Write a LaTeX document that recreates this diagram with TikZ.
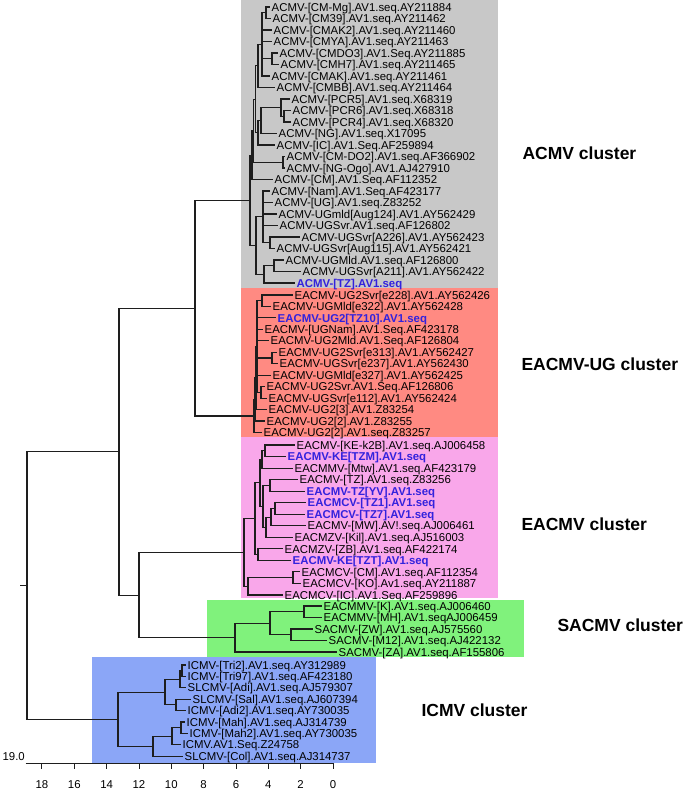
\documentclass[tikz,border=0pt]{standalone}
\usepackage{fontspec}
\setmainfont{Liberation Sans}
\usepackage{xcolor}
\usepackage{tikz}
\definecolor{acmvgray}{HTML}{C8C8C8}
\definecolor{ugred}{HTML}{FF8A82}
\definecolor{eapink}{HTML}{F9A7EA}
\definecolor{sagreen}{HTML}{80F27C}
\definecolor{icblue}{HTML}{8BA6F7}
\definecolor{isoblue}{HTML}{3322DD}
\definecolor{branchgray}{HTML}{1E1E1E}

\begin{document}
\begin{tikzpicture}[x=1pt, y=-1pt,
    leaf/.style={anchor=west, inner xsep=1.5pt, inner ysep=0pt, text height=8.2pt,
                 text depth=0pt, font=\fontsize{11.4}{12}\selectfont},
    ourleaf/.style={leaf, text=isoblue, font=\fontsize{11.4}{12}\selectfont\bfseries},
    cluster/.style={anchor=west, font=\fontsize{17.5}{20}\selectfont\bfseries},
    ticklabel/.style={inner sep=0pt, font=\fontsize{11.4}{12}\selectfont},
    branch/.style={draw=branchgray, line width=1.1pt}]
  \useasboundingbox (0,0) rectangle (685,795);

  % cluster backgrounds
  \fill[acmvgray] (241,0) rectangle (498,288);
  \fill[ugred] (241,288) rectangle (498,437);
  \fill[eapink] (241,437) rectangle (498,598);
  \fill[sagreen] (207,600) rectangle (524,657);
  \fill[icblue] (92,657) rectangle (376,763);

  % ACMV leaves
  \node[leaf] (a1) at (270,7) {ACMV-[CM-Mg].AV1.seq.AY211884};
  \node[leaf] (a2) at (271,18.5) {ACMV-[CM39].AV1.seq.AY211462};
  \node[leaf] (a3) at (272,30) {ACMV-[CMAK2].AV1.seq.AY211460};
  \node[leaf] (a4) at (272,41.5) {ACMV-[CMYA].AV1.seq.AY211463};
  \node[leaf] (a5) at (278,53) {ACMV-[CMDO3].AV1.Seq.AY211885};
  \node[leaf] (a6) at (279,64.5) {ACMV-[CMH7].AV1.seq.AY211465};
  \node[leaf] (a7) at (270,76) {ACMV-[CMAK].AV1.seq.AY211461};
  \node[leaf] (a8) at (275,87.5) {ACMV-[CMBB].AV1.seq.AY211464};
  \node[leaf] (a9) at (290,99) {ACMV-[PCR5].AV1.seq.X68319};
  \node[leaf] (a10) at (291,110.5) {ACMV-[PCR6].AV1.seq.X68318};
  \node[leaf] (a11) at (291,122) {ACMV-[PCR4].AV1.seq.X68320};
  \node[leaf] (a12) at (277,133.5) {ACMV-[NG].AV1.seq.X17095};
  \node[leaf] (a13) at (275,145) {ACMV-[IC].AV1.Seq.AF259894};
  \node[leaf] (a14) at (285,156.5) {ACMV-[CM-DO2].AV1.seq.AF366902};
  \node[leaf] (a15) at (285,168) {ACMV-[NG-Ogo].AV1.AJ427910};
  \node[leaf] (a16) at (273,179.5) {ACMV-[CM].AV1.Seq.AF112352};
  \node[leaf] (a17) at (270,191) {ACMV-[Nam].AV1.Seq.AF423177};
  \node[leaf] (a18) at (273,202.5) {ACMV-[UG].AV1.seq.Z83252};
  \node[leaf] (a19) at (277,214) {ACMV-UGmld[Aug124].AV1.AY562429};
  \node[leaf] (a20) at (278,225.5) {ACMV-UGSvr.AV1.seq.AF126802};
  \node[leaf] (a21) at (300,237) {ACMV-UGSvr[A226].AV1.AY562423};
  \node[leaf] (a22) at (275,248.5) {ACMV-UGSvr[Aug115].AV1.AY562421};
  \node[leaf] (a23) at (284,260) {ACMV-UGMld.AV1.seq.AF126800};
  \node[leaf] (a24) at (301,271.5) {ACMV-UGSvr[A211].AV1.AY562422};
  \node[ourleaf] (a25) at (295,283) {ACMV-[TZ].AV1.seq};

  % EACMV-UG leaves
  \node[leaf] (u1) at (293,295) {EACMV-UG2Svr[e228].AV1.AY562426};
  \node[leaf] (u2) at (271,306.45) {EACMV-UGMld[e322].AV1.AY562428};
  \node[ourleaf] (u3) at (276,317.9) {EACMV-UG2[TZ10].AV1.seq};
  \node[leaf] (u4) at (263,329.35) {EACMV-[UGNam].AV1.Seq.AF423178};
  \node[leaf] (u5) at (269,340.8) {EACMV-UG2Mld.AV1.Seq.AF126804};
  \node[leaf] (u6) at (277,352.25) {EACMV-UG2Svr[e313].AV1.AY562427};
  \node[leaf] (u7) at (278,363.7) {EACMV-UGSvr[e237].AV1.AY562430};
  \node[leaf] (u8) at (271,375.15) {EACMV-UGMld[e327].AV1.AY562425};
  \node[leaf] (u9) at (265,386.6) {EACMV-UG2Svr.AV1.Seq.AF126806};
  \node[leaf] (u10) at (267,398.05) {EACMV-UGSvr[e112].AV1.AY562424};
  \node[leaf] (u11) at (267,409.5) {EACMV-UG2[3].AV1.Z83254};
  \node[leaf] (u12) at (265,420.95) {EACMV-UG2[2].AV1.Z83255};
  \node[leaf] (u13) at (262,432.4) {EACMV-UG2[2].AV1.seq.Z83257};

  % EACMV leaves
  \node[leaf] (e1) at (295,445) {EACMV-[KE-k2B].AV1.seq.AJ006458};
  \node[ourleaf] (e2) at (286,456.5) {EACMV-KE[TZM].AV1.seq};
  \node[leaf] (e3) at (293,468.1) {EACMMV-[Mtw].AV1.seq.AF423179};
  \node[leaf] (e4) at (298,479.6) {EACMV-[TZ].AV1.seq.Z83256};
  \node[ourleaf] (e5) at (305,491.2) {EACMV-TZ[YV].AV1.seq};
  \node[ourleaf] (e6) at (306,502.7) {EACMCV-[TZ1].AV1.seq};
  \node[ourleaf] (e7) at (305,514.2) {EACMCV-[TZ7].AV1.seq};
  \node[leaf] (e8) at (306,525.8) {EACMV-[MW].AV!.seq.AJ006461};
  \node[leaf] (e9) at (293,537.3) {EACMZV-[Kil].AV1.seq.AJ516003};
  \node[leaf] (e10) at (283,548.9) {EACMZV-[ZB].AV1.seq.AF422174};
  \node[ourleaf] (e11) at (291,560.4) {EACMV-KE[TZT].AV1.seq};
  \node[leaf] (e12) at (300,571.9) {EACMCV-[CM].AV1.seq.AF112354};
  \node[leaf] (e13) at (301,583.5) {EACMCV-[KO].Av1.seq.AY211887};
  \node[leaf] (e14) at (283,595) {EACMCV-[IC].AV1.Seq.AF259896};

  % SACMV leaves
  \node[leaf] (s1) at (322,606) {EACMMV-[K].AV1.seq.AJ006460};
  \node[leaf] (s2) at (322,617.5) {EACMMV-[MH].AV1.seqAJ006459};
  \node[leaf] (s3) at (313,629) {SACMV-[ZW].AV1.seq.AJ575560};
  \node[leaf] (s4) at (327,640.5) {SACMV-[M12].AV1.seq.AJ422132};
  \node[leaf] (s5) at (337,652) {SACMV-[ZA].AV1.seq.AF155806};

  % ICMV leaves
  \node[leaf] (i1) at (186,665) {ICMV-[Tri2].AV1.seq.AY312989};
  \node[leaf] (i2) at (186,676.4) {ICMV-[Tri97].AV1.seq.AF423180};
  \node[leaf] (i3) at (186,687.8) {SLCMV-[Adi].AV1.seq.AJ579307};
  \node[leaf] (i4) at (191,699.2) {SLCMV-[Sal].AV1.seq.AJ607394};
  \node[leaf] (i5) at (186,710.6) {ICMV-[Adi2].AV1.seq.AY730035};
  \node[leaf] (i6) at (185,722) {ICMV-[Mah].AV1.seq.AJ314739};
  \node[leaf] (i7) at (188,733.4) {ICMV-[Mah2].AV1.seq.AY730035};
  \node[leaf] (i8) at (181,744.8) {ICMV.AV1.Seq.Z24758};
  \node[leaf] (i9) at (183,756.2) {SLCMV-[Col].AV1.seq.AJ314737};

  % internal nodes
  \coordinate (nA1) at (266,12.75);
  \coordinate (nA2) at (272,58.75);
  \coordinate (nA3) at (262,44.4);
  \coordinate (nA4) at (258,65.9);
  \coordinate (nA5) at (284,116.25);
  \coordinate (nA6) at (281,107.6);
  \coordinate (nA7) at (261,120.6);
  \coordinate (nA8) at (258,132.8);
  \coordinate (nA9) at (283,162.25);
  \coordinate (nA10) at (255.5,99.4);
  \coordinate (nA11) at (253.5,130.8);
  \coordinate (nA12) at (252,155.2);
  \coordinate (nA13) at (270,242.75);
  \coordinate (nA14) at (263,216.9);
  \coordinate (nA15) at (274,265.75);
  \coordinate (nA16) at (264,274.4);
  \coordinate (nA17) at (256,245.6);
  \coordinate (nA18) at (250,200.4);

  \coordinate (nU1) at (262,300.7);
  \coordinate (nU2) at (272,358);
  \coordinate (nU3) at (261,392.3);
  \coordinate (nU4) at (257,346.5);
  \coordinate (nU5) at (256,378);
  \coordinate (nU6) at (255,399.5);
  \coordinate (nU7) at (254,416);

  \coordinate (nE1) at (265,450.8);
  \coordinate (nE2) at (262,459.4);
  \coordinate (nE3) at (270,485.4);
  \coordinate (nE4) at (275,508.5);
  \coordinate (nE5) at (271,517.1);
  \coordinate (nE6) at (266,527.2);
  \coordinate (nE7) at (263,506.3);
  \coordinate (nE8) at (260,482.9);
  \coordinate (nE9) at (258,554.7);
  \coordinate (nE10) at (255,518.8);
  \coordinate (nE11) at (293,577.7);
  \coordinate (nE12) at (248,586.4);
  \coordinate (nE13) at (244,552.6);

  \coordinate (nS1) at (304,611.75);
  \coordinate (nS2) at (291,634.75);
  \coordinate (nS3) at (270,623.25);
  \coordinate (nS4) at (235,637.6);

  \coordinate (nI1) at (182,670.7);
  \coordinate (nI2) at (180,679.25);
  \coordinate (nI3) at (176,704.9);
  \coordinate (nI4) at (165,692.1);
  \coordinate (nI5) at (181,727.7);
  \coordinate (nI6) at (172,736.25);
  \coordinate (nI7) at (153,746.2);
  \coordinate (nI8) at (118,719.15);

  \coordinate (nAU) at (195,308.2);
  \coordinate (nES) at (139,595.1);
  \coordinate (nUp) at (119,451.65);
  \coordinate (nRoot) at (27,585.4);
  \coordinate (rootstub) at (20,585.4);

  % branches
  \foreach \p/\c in {nA1/a1, nA1/a2, nA2/a5, nA2/a6, nA3/nA1, nA3/a3, nA3/a4, nA3/nA2,
      nA3/a7, nA4/nA3, nA4/a8, nA5/a10, nA5/a11, nA6/a9, nA6/nA5, nA7/nA6, nA7/a12,
      nA8/nA7, nA8/a13, nA9/a14, nA9/a15, nA10/nA4, nA10/nA8, nA11/nA10, nA11/nA9,
      nA12/nA11, nA12/a16, nA13/a21, nA13/a22, nA14/a17, nA14/a18, nA14/a19, nA14/a20,
      nA14/nA13, nA15/a23, nA15/a24, nA16/nA15, nA16/a25, nA17/nA14, nA17/nA16,
      nA18/nA12, nA18/nA17}
    \draw[branch] (\p) |- (\c);
  \foreach \p/\c in {nU1/u1, nU1/u2, nU2/u6, nU2/u7, nU3/u9, nU3/u10, nU4/nU1, nU4/u3,
      nU4/u4, nU4/u5, nU4/nU2, nU4/u8, nU4/nU3, nU5/nU4, nU5/u11, nU6/nU5, nU6/u12,
      nU7/nU6, nU7/u13}
    \draw[branch] (\p) |- (\c);
  \foreach \p/\c in {nE1/e1, nE1/e2, nE2/nE1, nE2/e3, nE3/e4, nE3/e5, nE4/e6, nE4/e7,
      nE5/nE4, nE5/e8, nE6/nE5, nE6/e9, nE7/nE3, nE7/nE6, nE8/nE2, nE8/nE7, nE9/e10,
      nE9/e11, nE10/nE8, nE10/nE9, nE11/e12, nE11/e13, nE12/nE11, nE12/e14,
      nE13/nE10, nE13/nE12}
    \draw[branch] (\p) |- (\c);
  \foreach \p/\c in {nS1/s1, nS1/s2, nS2/s3, nS2/s4, nS3/nS1, nS3/nS2, nS4/nS3, nS4/s5}
    \draw[branch] (\p) |- (\c);
  \foreach \p/\c in {nI1/i1, nI1/i2, nI2/nI1, nI2/i3, nI3/i4, nI3/i5, nI4/nI2, nI4/nI3,
      nI5/i6, nI5/i7, nI6/nI5, nI6/i8, nI7/nI6, nI7/i9, nI8/nI4, nI8/nI7}
    \draw[branch] (\p) |- (\c);
  \foreach \p/\c in {nAU/nA18, nAU/nU7, nES/nE13, nES/nS4, nUp/nAU, nUp/nES,
      nRoot/nUp, nRoot/nI8}
    \draw[branch] (\p) |- (\c);
  \draw[branch] (rootstub) -- (nRoot);

  % cluster names
  \node[cluster] (acmvname) at (519,153) {ACMV cluster};
  \node[cluster] (ugname) at (518,364) {EACMV-UG cluster};
  \node[cluster] (eacmvname) at (518,524) {EACMV cluster};
  \node[cluster] (sacmvname) at (554,625) {SACMV cluster};
  \node[cluster] (icmvname) at (418,710) {ICMV cluster};

  % scale
  \coordinate (axstart) at (25.5,763);
  \coordinate (axend) at (333,763);
  \draw[branch, line width=0.9pt] (axstart) -- (axend);
  \foreach \k in {0,2,...,18} {
    \coordinate (tk\k) at ({333-16.17*\k},763);
    \draw[branch, line width=0.9pt] (tk\k) -- ++(0,6);
    \node[ticklabel] (tl\k) at ({333-16.17*\k},785) {\k};
  }
  \node[ticklabel, anchor=east] (scalemax) at (25,757) {19.0};
\end{tikzpicture}
\end{document}
